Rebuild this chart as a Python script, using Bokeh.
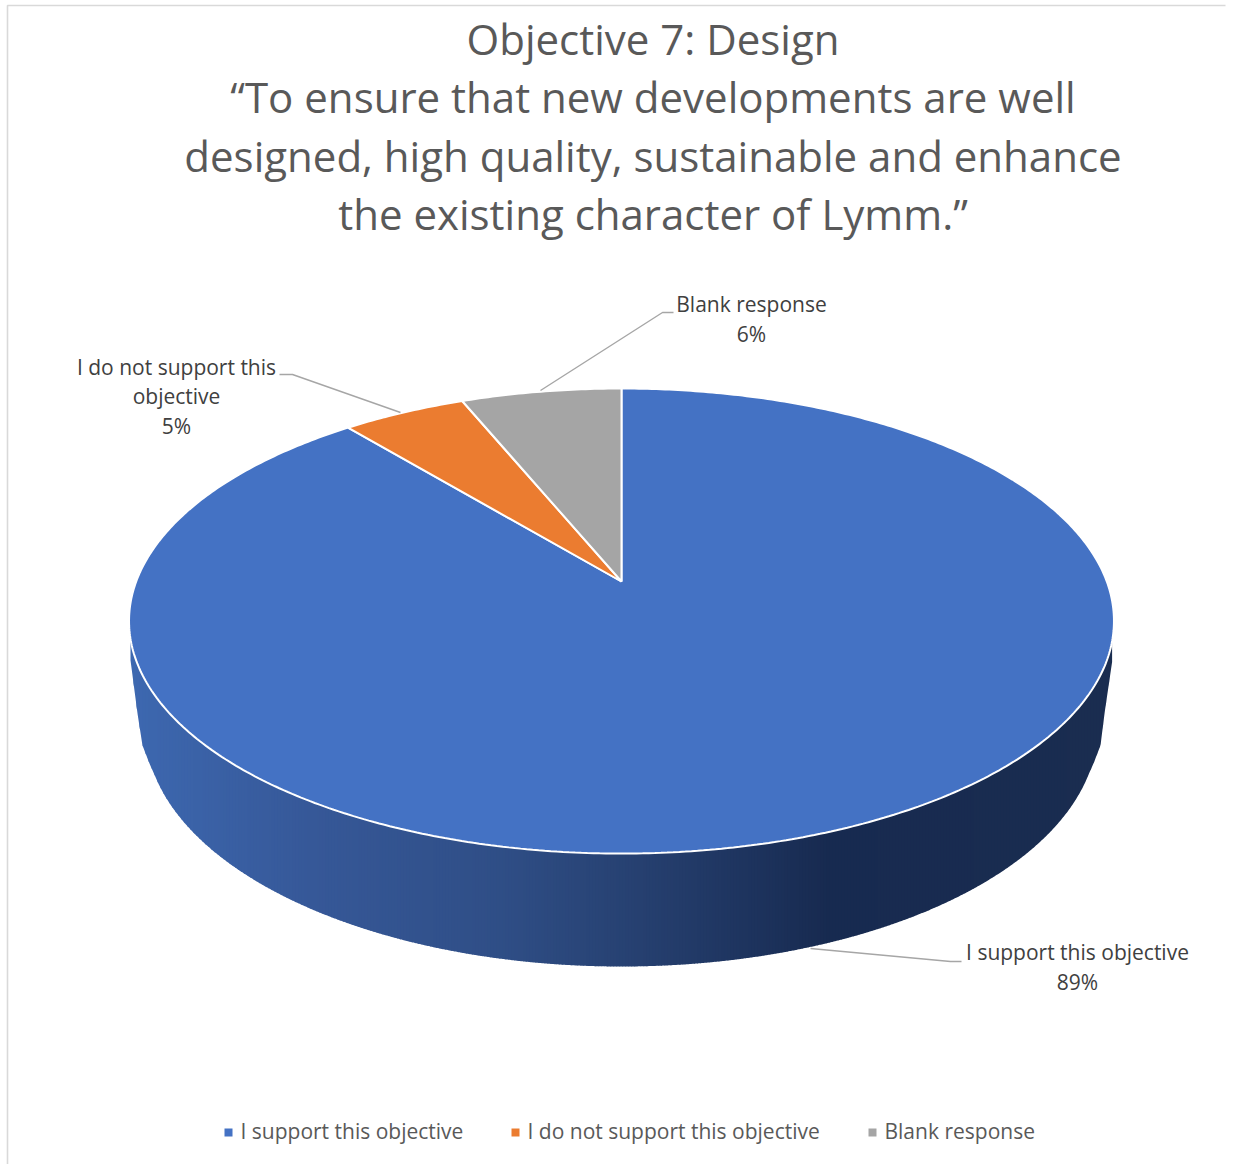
import numpy as np
from bokeh.plotting import figure
from bokeh.models import Range1d
from bokeh.core.properties import value
from bokeh.embed import file_html
from bokeh.resources import INLINE

# ---- chart data
categories = ["I support this objective", "I do not support this objective", "Blank response"]
values = [89, 4.8, 6.2]
colors = ["#4472C4", "#EB7C30", "#A5A5A5"]
title_lines = [
    "Objective 7: Design",
    "\u201cTo ensure that new developments are well",
    "designed, high quality, sustainable and enhance",
    "the existing character of Lymm.\u201d",
]

# ---- layout (page pixels of the picture)
FONT = "Open Sans"
APEX_X, APEX_Y = 621.0, 581.0
A, B, K = 485.3, 225.8, 0.17          # perspective of the pie disc
WALL_CY, WALL_RY, WALL_RX = 728.0, 238.0, 476.0
wall_left_x = [129, 137, 142, 149, 155]
wall_left_y = [652, 713, 745, 763, 776.5]
wall_right_x = [1087, 1093, 1100, 1104, 1113]
wall_right_y = [776.5, 763, 745, 713, 652]
gradient_x = [130, 310, 500, 640, 830, 1115]
gradient_rgb = [(0x3D, 0x68, 0xB0), (0x36, 0x58, 0x98), (0x2F, 0x4E, 0x86),
                (0x26, 0x40, 0x70), (0x17, 0x2A, 0x50), (0x1A, 0x2D, 0x50)]


def project(pct):
    """Percent clockwise from 12 o'clock -> position on the tilted disc's rim."""
    th = np.asarray(pct, dtype=float) / 100.0 * 2 * np.pi
    X, Y = np.sin(th), -np.cos(th)
    d = 1 - K * Y
    return APEX_X + A * X / d, APEX_Y + B * Y / d


p = figure(width=1233, height=1164, x_range=Range1d(0, 1233), y_range=Range1d(1164, 0),
           output_backend="svg", toolbar_location=None, min_border=0,
           background_fill_color="white", border_fill_color="white")
p.axis.visible = False
p.grid.visible = False
p.outline_line_color = None

# chart frame
p.line([7, 7, 1225], [1164, 5, 5], line_color="#D9D9D9", line_width=1.6)

# ---- wall of the pie: vertical strips with a left-to-right shade
rim_pct = np.linspace(0, 100, 721)
rim_x, rim_y = project(rim_pct)
front = rim_y > 620
order = np.argsort(rim_x[front])
fx, fy = rim_x[front][order], rim_y[front][order]


def wall_bottom(x):
    x = np.asarray(x, dtype=float)
    dx = np.clip((x - APEX_X) / WALL_RX, -1, 1)
    y = WALL_CY + WALL_RY * np.sqrt(1 - dx * dx)
    y = np.where(x < 155, np.interp(x, wall_left_x, wall_left_y), y)
    y = np.where(x > 1087, np.interp(x, wall_right_x, wall_right_y), y)
    return y


edges = np.arange(130, 1114, 3.0)
xs, ys, cols = [], [], []
for a, b in zip(edges[:-1], edges[1:]):
    sx = np.linspace(a, b + 0.6, 4)
    top = np.interp(sx, fx, fy) - 2
    bot = np.maximum(wall_bottom(sx), top)
    xs.append(list(sx) + list(sx[::-1]))
    ys.append(list(top) + list(bot[::-1]))
    c = [np.interp((a + b) / 2, gradient_x, [g[i] for g in gradient_rgb]) for i in range(3)]
    cols.append("#%02x%02x%02x" % tuple(int(round(v)) for v in c))
p.patches(xs, ys, fill_color=cols, line_color=None)

# ---- top face, one wedge per value
cum = np.concatenate([[0], np.cumsum(values)]) / np.sum(values) * 100
wx, wy = [], []
for s, e in zip(cum[:-1], cum[1:]):
    px, py = project(np.linspace(s, e, max(8, int((e - s) * 6))))
    wx.append([APEX_X] + list(px))
    wy.append([APEX_Y] + list(py))
p.patches(wx, wy, fill_color=colors, line_color="white", line_width=2)

# ---- leader lines
leader_x = [[810, 950, 961], [279, 292, 400], [673, 662, 540]]
leader_y = [[948, 961, 961], [374, 374, 412], [312, 312, 390]]
p.multi_line(leader_x, leader_y, line_color="#A6A6A6", line_width=1.4)

# ---- title
p.text([652.5] * 4, [37.5, 95.5, 154.5, 212.5], text=title_lines, text_font=value(FONT),
       text_font_size="42px", text_color="#595959", text_align="center", text_baseline="middle")

# ---- data labels
pct = [f"{round(v)}%" for v in values]
lab_x = [1077, 1077, 176, 176, 176, 751, 751]
lab_y = [951.5, 981.5, 366.5, 395.5, 425.5, 303.5, 333.5]
lab_t = [categories[0], pct[0], "I do not support this", "objective", pct[1], categories[2], pct[2]]
p.text(lab_x, lab_y, text=lab_t, text_font=value(FONT), text_font_size="21px",
       text_color="#404040", text_align="center", text_baseline="middle")

# ---- legend
leg_x = [228, 515, 872]
p.scatter(leg_x, [1132] * 3, marker="square", size=8, fill_color=colors, line_color=None)
p.text([x + 12 for x in leg_x], [1130.5] * 3, text=categories, text_font=value(FONT),
       text_font_size="21px", text_color="#595959", text_align="left", text_baseline="middle")

open("out.html", "w").write(file_html(p, INLINE))
